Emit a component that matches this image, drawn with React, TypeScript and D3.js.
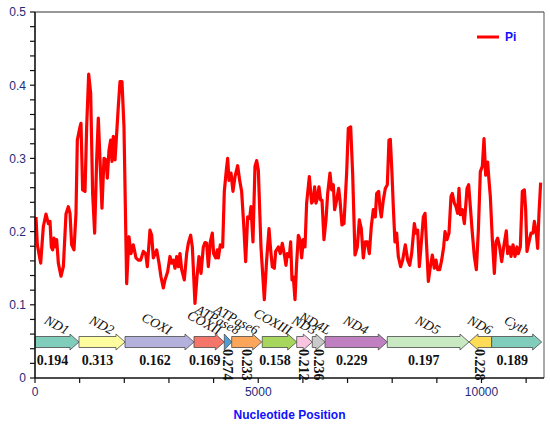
import React from "react";
import * as d3 from "d3";

// ---- data ----
const positions = [
  22, 52, 127, 187, 246, 299, 336, 366, 396, 425, 463, 485, 523, 582, 635, 694, 746, 784, 821, 873,
  918, 948, 1008, 1030, 1067, 1120, 1157, 1202, 1247, 1291, 1336, 1381, 1418, 1456, 1500, 1545, 1590,
  1620, 1657, 1695, 1724, 1754, 1792, 1829, 1866, 1904, 1948, 1993, 2053, 2105, 2150, 2202, 2262, 2314,
  2366, 2426, 2478, 2516, 2575, 2613, 2650,
  2725, 2777, 2822, 2874, 2911, 2971, 3023, 3061, 3098, 3135, 3173, 3210, 3247, 3285, 3344, 3397, 3434,
  3486, 3524, 3583, 3628, 3673, 3718, 3770, 3807, 3845, 3882, 3927, 3971, 4001, 4046, 4083, 4106, 4151,
  4203, 4240, 4285, 4315, 4345, 4390, 4434, 4479, 4539, 4584, 4628, 4673, 4718, 4763, 4808, 4837, 4882,
  4927, 4964, 5002, 5061, 5136, 5188, 5241, 5278, 5315, 5360, 5390, 5450, 5494, 5539,
  5592, 5621, 5651, 5696, 5726, 5756, 5786, 5823, 5860, 5898, 5935, 5972, 6010, 6047, 6084, 6144, 6196,
  6234, 6263, 6293, 6323, 6360, 6398, 6428, 6472, 6517, 6555, 6607, 6644, 6681, 6711, 6756, 6801, 6831,
  6875, 6920, 6980, 7017, 7070, 7114, 7167, 7219, 7264, 7308, 7353, 7398, 7443, 7488, 7532, 7577, 7622,
  7652, 7697, 7727, 7756, 7801, 7846, 7891, 7928, 7958, 7995, 8025, 8062, 8100, 8137, 8189, 8234, 8294,
  8347, 8392, 8436, 8496, 8533, 8571, 8608, 8645, 8698, 8735, 8772, 8810, 8854, 8899, 8944, 8981, 9019,
  9063, 9108, 9153, 9183, 9228, 9272, 9317, 9347, 9392, 9429, 9466, 9496, 9526, 9571, 9616, 9646, 9676,
  9713, 9750, 9795, 9840, 9885, 9930, 9974, 10019, 10056, 10094, 10138, 10168, 10198, 10243, 10288,
  10325, 10362, 10407, 10452, 10497, 10556, 10586, 10631, 10661, 10706, 10750, 10795, 10825, 10870,
  10915, 10960, 10989, 11019, 11064, 11109, 11154, 11184, 11228, 11258, 11288, 11325,
];

const piValues = [
  0.220, 0.182, 0.157, 0.207, 0.224, 0.211, 0.214, 0.179, 0.175, 0.191, 0.179, 0.189, 0.157, 0.139, 0.152,
  0.224, 0.234, 0.225, 0.182, 0.175, 0.225, 0.325, 0.343, 0.348, 0.257, 0.255, 0.343, 0.415, 0.389, 0.252,
  0.198, 0.298, 0.355, 0.298, 0.232, 0.300, 0.298, 0.273, 0.311, 0.325, 0.296, 0.330, 0.298, 0.334, 0.371,
  0.405, 0.405, 0.343, 0.129, 0.193, 0.170, 0.182, 0.164, 0.161, 0.161, 0.173, 0.170, 0.152, 0.202, 0.195,
  0.164,
  0.175, 0.157, 0.138, 0.123, 0.134, 0.145, 0.166, 0.157, 0.161, 0.150, 0.166, 0.152, 0.170, 0.148, 0.134,
  0.170, 0.184, 0.195, 0.179, 0.102, 0.138, 0.166, 0.143, 0.179, 0.185, 0.184, 0.152, 0.186, 0.198, 0.170,
  0.164, 0.175, 0.164, 0.182, 0.179, 0.255, 0.284, 0.300, 0.270, 0.280, 0.255, 0.275, 0.290, 0.270, 0.255,
  0.211, 0.159, 0.220, 0.218, 0.234, 0.186, 0.289, 0.297, 0.284, 0.179, 0.107, 0.161, 0.204, 0.175, 0.152,
  0.150, 0.173, 0.179, 0.170, 0.184,
  0.166, 0.154, 0.170, 0.166, 0.186, 0.134, 0.138, 0.107, 0.157, 0.195, 0.189, 0.164, 0.189, 0.179, 0.239,
  0.275, 0.239, 0.243, 0.261, 0.239, 0.245, 0.261, 0.243, 0.243, 0.189, 0.216, 0.252, 0.280, 0.257, 0.264,
  0.230, 0.243, 0.259, 0.243, 0.209, 0.211, 0.280, 0.341, 0.343, 0.280, 0.168, 0.179, 0.216, 0.204, 0.164,
  0.186, 0.186, 0.170, 0.207, 0.230, 0.220, 0.252, 0.255, 0.232, 0.220, 0.243, 0.259, 0.264, 0.325, 0.326,
  0.280, 0.234, 0.186, 0.198, 0.166, 0.152, 0.161, 0.182,
  0.161, 0.154, 0.170, 0.211, 0.198, 0.202, 0.152, 0.179, 0.220, 0.225, 0.179, 0.132, 0.152, 0.168, 0.150,
  0.161, 0.148, 0.148, 0.161, 0.179, 0.200, 0.189, 0.198, 0.248, 0.252, 0.239, 0.234, 0.225, 0.259, 0.223,
  0.230, 0.211, 0.234, 0.259, 0.264, 0.234, 0.198, 0.166, 0.148, 0.202, 0.282, 0.289, 0.327, 0.277, 0.295,
  0.270, 0.248, 0.189, 0.143, 0.186, 0.191, 0.179, 0.159, 0.179, 0.201, 0.170, 0.179, 0.166, 0.182, 0.166,
  0.179, 0.170, 0.179, 0.255, 0.257, 0.230, 0.173, 0.186, 0.198, 0.198, 0.214, 0.198, 0.177, 0.225, 0.267,
];

const geneNames = ["ND1", "ND2", "COXI", "COXII", "ATPase8", "ATPase6", "COXIII", "ND3", "ND4L", "ND4", "ND5", "ND6", "Cytb"];
const geneStarts = [1, 985, 2016, 3561, 4240, 4405, 5090, 5861, 6210, 6495, 7890, 9720, 10228];
const geneEnds = [985, 2016, 3561, 4240, 4405, 5077, 5861, 6210, 6495, 7890, 9720, 10228, 11348];
const geneForward = [true, true, true, true, true, true, true, true, true, true, true, false, true];
const genePi = ["0.194", "0.313", "0.162", "0.169", "0.274", "0.233", "0.158", "0.212", "0.236", "0.229", "0.197", "0.228", "0.189"];
const geneVertical = [false, false, false, false, true, true, false, true, true, false, false, true, false];

const xTickValues = [0, 5000, 10000];
const xTickLabels = ["0", "5000", "10000"];
const yTickValues = [0, 0.1, 0.2, 0.3, 0.4, 0.5];
const yTickLabels = ["0", "0.1", "0.2", "0.3", "0.4", "0.5"];
const seriesName = "Pi";
const xTitle = "Nucleotide Position";

// ---- styles ----
const geneColors = ["#80cdbc", "#fdfd9f", "#b4b2dc", "#f4766a", "#4c9fd8", "#fba65b", "#a6d65c", "#f8c4e0", "#c9c9c9", "#bf7fc0", "#c8e9c1", "#ffdc55", "#80cdbc"];
const W = 550, H = 426;
const L = 35, R = 544, T = 12, B = 378;
const tickColor = "#1e2a7a";

export default function App() {
  const x = d3.scaleLinear().domain([0, 11400]).range([L, R]);
  const y = d3.scaleLinear().domain([0, 0.5]).range([B, T]);
  const line = d3.line<number>().x((_, i) => x(positions[i])).y((d) => y(d));
  const path = line(piValues) || "";

  const yMinor = d3.range(0, 0.5001, 0.02);
  const xMinor = d3.range(0, 11001, 1000);

  const cy = 342;
  const bh = 5.5, hh = 8;

  const arrowPath = (i: number) => {
    const x0 = x(geneStarts[i]);
    const x1 = x(geneEnds[i]);
    const w = x1 - x0;
    const hl = Math.min(9, w);
    if (geneForward[i]) {
      return `M${x0},${cy - bh}L${x1 - hl},${cy - bh}L${x1 - hl},${cy - hh}L${x1},${cy}L${x1 - hl},${cy + hh}L${x1 - hl},${cy + bh}L${x0},${cy + bh}Z`;
    }
    return `M${x1},${cy - bh}L${x0 + hl},${cy - bh}L${x0 + hl},${cy - hh}L${x0},${cy}L${x0 + hl},${cy + hh}L${x0 + hl},${cy + bh}L${x1},${cy + bh}Z`;
  };

  return (
    <svg width={W} height={H} style={{ position: "absolute", left: 0, top: 0, background: "#fff" }}>
      <rect x={0} y={0} width={W} height={H} fill="#fff" />
      {/* frame */}
      <line x1={L} x2={R} y1={T} y2={T} stroke="#333" strokeWidth={1.2} />
      <line x1={R} x2={R} y1={T} y2={B} stroke="#555" strokeWidth={1} />

      {/* data line */}
      <path d={path} fill="none" stroke="#ff0000" strokeWidth={3.2} strokeLinejoin="round" />

      {/* genes */}
      {geneNames.map((g, i) => {
        const x0 = x(geneStarts[i]);
        const x1 = x(geneEnds[i]);
        const hl = Math.min(9, x1 - x0);
        const bodyC = geneForward[i] ? (x0 + x1 - hl) / 2 : (x0 + hl + x1) / 2;
        const c = (x0 + x1) / 2;
        return (
          <g key={g}>
            <path d={arrowPath(i)} fill={geneColors[i]} stroke="#4a4a4a" strokeWidth={0.8} />
            <text
              transform={`translate(${c + 9},${335}) rotate(28)`}
              textAnchor="end"
              fontFamily="'Liberation Serif', 'Times New Roman', serif"
              fontStyle="italic"
              fontSize={13.5}
              fill="#111"
            >
              {g}
            </text>
            {geneVertical[i] ? (
              <text
                transform={`translate(${c - 5},${349}) rotate(90)`}
                textAnchor="start"
                fontFamily="'Liberation Serif', 'Times New Roman', serif"
                fontWeight="bold"
                fontSize={14}
                fill="#111"
              >
                {genePi[i]}
              </text>
            ) : (
              <text
                x={bodyC}
                y={365}
                textAnchor="middle"
                fontFamily="'Liberation Serif', 'Times New Roman', serif"
                fontWeight="bold"
                fontSize={14}
                fill="#111"
              >
                {genePi[i]}
              </text>
            )}
          </g>
        );
      })}

      {/* axes */}
      <line x1={L} x2={L} y1={T} y2={B} stroke="#111" strokeWidth={1.6} />
      <line x1={L} x2={R} y1={B} y2={B} stroke="#111" strokeWidth={1.6} />
      {yMinor.map((v) => (
        <line key={"yt" + v} x1={L - 5} x2={L} y1={y(v)} y2={y(v)} stroke="#111" strokeWidth={1.2} />
      ))}
      {xMinor.map((v) => (
        <line key={"xt" + v} x1={x(v)} x2={x(v)} y1={B} y2={B + 5} stroke="#111" strokeWidth={1.2} />
      ))}
      {yTickValues.map((v, i) => (
        <text
          key={"yl" + v}
          x={L - 9}
          y={y(v)}
          dy="0.36em"
          textAnchor="end"
          fontFamily="'Liberation Sans', Arial, sans-serif"
          fontSize={12}
          fill={tickColor}
        >
          {yTickLabels[i]}
        </text>
      ))}
      {xTickValues.map((v, i) => (
        <text
          key={"xl" + v}
          x={x(v)}
          y={396}
          textAnchor="middle"
          fontFamily="'Liberation Sans', Arial, sans-serif"
          fontSize={12}
          fill={tickColor}
        >
          {xTickLabels[i]}
        </text>
      ))}
      <text
        x={(L + R) / 2}
        y={419}
        textAnchor="middle"
        fontFamily="'Liberation Sans', Arial, sans-serif"
        fontWeight="bold"
        fontSize={12}
        fill="#1010ff"
      >
        {xTitle}
      </text>

      {/* legend */}
      <line x1={477} x2={499} y1={37} y2={37} stroke="#ff0000" strokeWidth={3} />
      <text x={505} y={41} fontFamily="'Liberation Sans', Arial, sans-serif" fontWeight="bold" fontSize={12} fill="#1010ff">
        {seriesName}
      </text>
    </svg>
  );
}
